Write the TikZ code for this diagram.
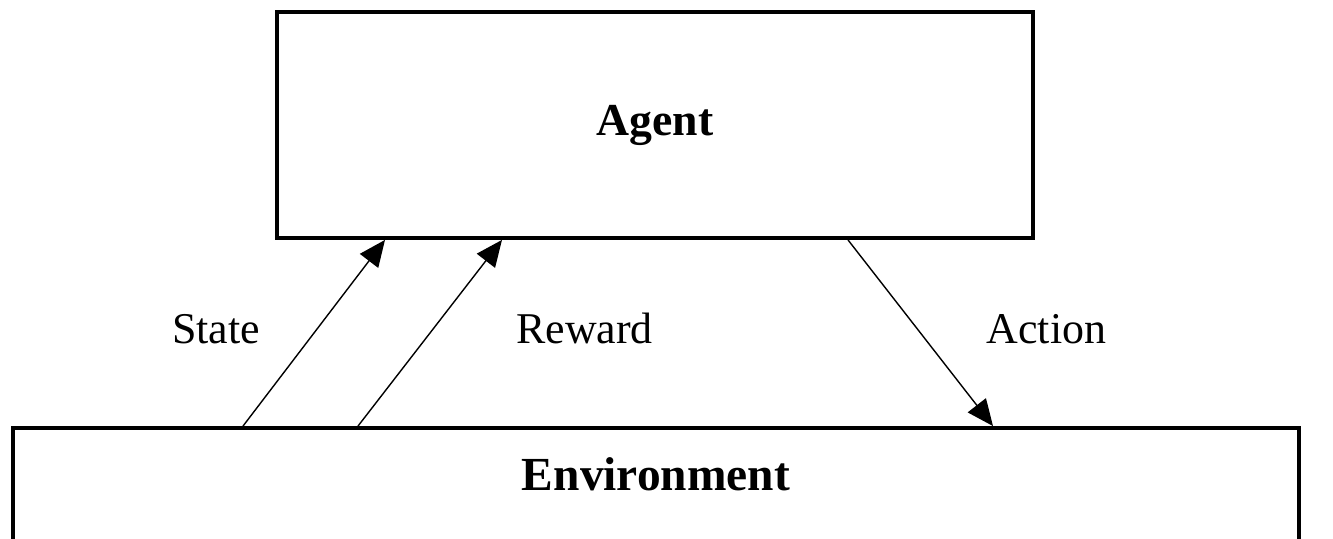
\documentclass[tikz,border=0pt]{standalone}
\usepackage{fontspec}
\setmainfont{Liberation Serif}
\usetikzlibrary{arrows.meta}
\tikzset{
  box/.style={draw, line width=2.2pt, rectangle, inner sep=0pt},
  flow/.style={line width=0.8pt, -{Triangle[length=15pt,width=13pt]}},
  lbl/.style={font=\fontsize{25}{30}\selectfont, anchor=base},
  title/.style={font=\fontsize{26}{30}\selectfont\bfseries}
}
\begin{document}
\begin{tikzpicture}
  \clip (0,0) rectangle (26.66,10.76);
  \fill[white] (0,0) rectangle (26.66,10.76);
  % Agent box (top)
  \node[box, title, minimum width=15.12cm, minimum height=4.52cm] (agent) at (13.1,8.26) {Agent};
  % Environment box (bottom, runs off the page)
  \node[box, minimum width=25.72cm, minimum height=2.8cm] (env) at (13.12,0.8) {};
  \node[title, anchor=base, font=\fontsize{27}{30}\selectfont\bfseries] (envtext) at (13.12,0.95) {Environment};
  % Ends of the arrows
  \coordinate (stateA) at (env.north -| 4.86,0);
  \coordinate (stateB) at (agent.south -| 7.70,0);
  \coordinate (rewardA) at (env.north -| 7.16,0);
  \coordinate (rewardB) at (agent.south -| 10.04,0);
  \coordinate (actionA) at (agent.south -| 16.96,0);
  \coordinate (actionB) at (env.north -| 19.86,0);
  % Arrows
  \draw[flow] (stateA) -- (stateB);
  \draw[flow] (rewardA) -- (rewardB);
  \draw[flow] (actionA) -- (actionB);
  % Labels
  \node[lbl] (state) at (4.32,3.9) {State};
  \node[lbl] (reward) at (11.69,3.9) {Reward};
  \node[lbl] (action) at (20.93,3.9) {Action};
\end{tikzpicture}
\end{document}
